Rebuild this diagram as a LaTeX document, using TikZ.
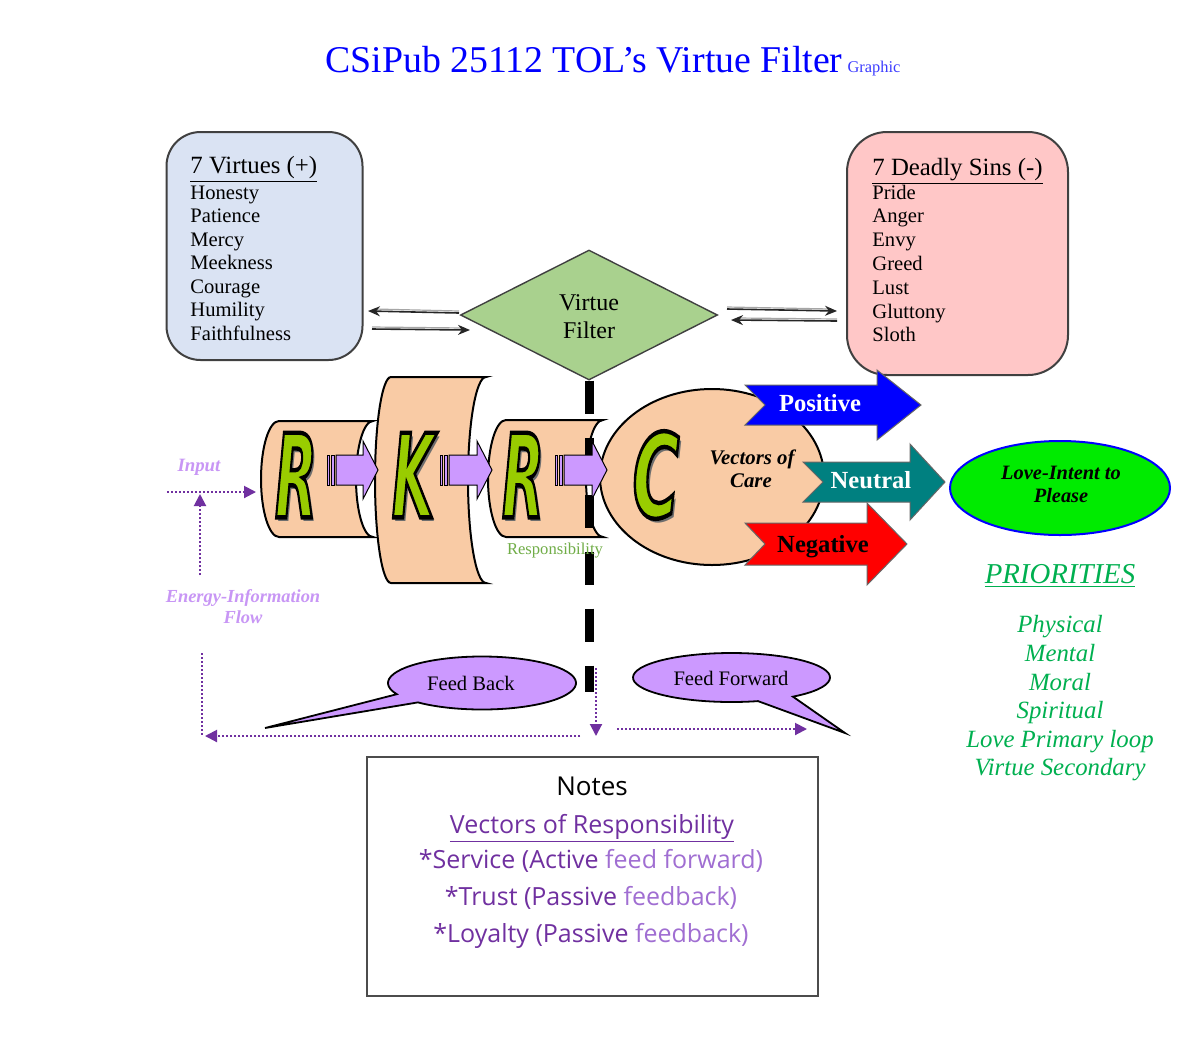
\documentclass[tikz,border=0pt]{standalone}
\usepackage{graphicx}
\usepackage{fontspec}
\setmainfont{Liberation Serif}
\newfontfamily\rkfont{DejaVu Sans}
\newfontfamily\notefont{Open Sans}
\usetikzlibrary{shapes.geometric,arrows.meta,calc}
\definecolor{vblue}{RGB}{218,227,243}
\definecolor{spink}{RGB}{255,199,199}
\definecolor{dgreen}{RGB}{169,209,142}
\definecolor{peach}{RGB}{249,203,165}
\definecolor{lgreen}{RGB}{153,204,0}
\definecolor{lpurple}{RGB}{204,153,255}
\definecolor{ilpurple}{RGB}{200,150,245}
\definecolor{dpurple}{RGB}{112,48,160}
\definecolor{lpurpletwo}{RGB}{160,110,210}
\definecolor{tealtwo}{RGB}{0,128,128}
\definecolor{prgreen}{RGB}{0,176,80}
\definecolor{respgreen}{RGB}{112,173,71}
\definecolor{titleblue}{RGB}{0,0,255}
\definecolor{grblue}{RGB}{60,60,255}
\definecolor{lovegreen}{RGB}{0,235,0}
\definecolor{shadowgray}{RGB}{110,110,110}
\newcommand\fsz[1]{\fontsize{#1}{#1}\selectfont}
\newcommand\outlined[1]{\special{pdf:literal direct 2 Tr 2.2 w 0 0 0 RG}#1\special{pdf:literal direct 0 Tr}}
\tikzset{
  lst/.style={anchor=base west, inner sep=0},
  ctr/.style={anchor=base, inner sep=0},
  boxstyle/.style={draw=black!75, line width=1pt},
  cylstyle/.style={draw=black, line width=1pt, fill=peach},
  parr/.style={draw=black, line width=0.5pt, fill=lpurple},
  narr/.style={draw=black!60, line width=0.5pt},
  darr/.style={draw=black!85, line width=0.8pt, -{Stealth[length=6pt,width=5pt]}},
  dshadow/.style={draw=black!35, line width=0.6pt},
  dotp/.style={draw=dpurple, line width=1pt, dash pattern=on 1pt off 1pt},
  dotarr/.style={dotp, -{Triangle[length=6pt,width=6pt]}},
  callout/.style={draw=black, line width=0.9pt, fill=lpurple},
  bigl/.style={font=\rkfont\bfseries\itshape\fsz{58}, inner sep=0},
}
% #1 name, #2 x, #3 y, #4 letter, #5 xscale
\newcommand\bigletter[5]{%
  \node[bigl, text=lgreen] (#1) at (#2,#3) {\scalebox{#5}[1]{\makebox[0pt][l]{\kern3pt\raisebox{-2pt}{\textcolor{shadowgray}{#4}}}\outlined{#4}}};
}
% #1 name, #2 tail x, #3 tip x, #4 y
\newcommand\stripearrow[4]{%
  \draw[parr] (#2,#4-15) rectangle (#2+2.5,#4+15);
  \draw[parr] (#2+4.5,#4-15) rectangle (#2+7.5,#4+15);
  \draw[parr] (#2+9,#4+15) -- (#3-15,#4+15) -- (#3-15,#4+29) -- (#3,#4)
     -- (#3-15,#4-29) -- (#3-15,#4-15) -- (#2+9,#4-15) -- cycle;
  \coordinate (#1) at (#3,#4);
}
\begin{document}
\begin{tikzpicture}[x=0.5pt,y=0.5pt]
\useasboundingbox (0,0) rectangle (1200,-1040);
\fill[white] (0,0) rectangle (1200,-1040);

% Title
\node[lst, text=titleblue, font=\fsz{18.9}] (title) at (325,-72)
  {CSiPub 25112 TOL’s Virtue Filter\kern2.5pt{\color{grblue}\fsz{8.2}Graphic}};

% Virtues box
\node[boxstyle, fill=vblue, rounded corners=17pt, minimum width=98pt, minimum height=114pt] (virt) at (264.5,-246) {};
\node[lst, font=\fsz{12.4}] (vhead) at (190,-173) {\underline{7 Virtues (+)}};
\foreach \t [count=\i] in {Honesty,Patience,Mercy,Meekness,Courage,Humility,Faithfulness}
  \node[lst, font=\fsz{10.3}] (v\i) at (190,{-199-23.5*(\i-1)}) {\t};

% Sins box
\node[boxstyle, fill=spink, rounded corners=20pt, minimum width=110.5pt, minimum height=121.5pt] (sins) at (957.5,-253.5) {};
\node[lst, font=\fsz{12.4}] (shead) at (872,-175) {\underline{7 Deadly Sins (-)}};
\foreach \t [count=\i] in {Pride,Anger,Envy,Greed,Lust,Gluttony,Sloth}
  \node[lst, font=\fsz{10.3}] (s\i) at (872,{-199-23.8*(\i-1)}) {\t};

% Diamond
\node[diamond, aspect=2, draw=black!75, line width=0.7pt, fill=dgreen, minimum width=128.5pt, minimum height=65pt, inner sep=0] (vf) at (589,-315) {};
\node[ctr, font=\fsz{12}] (vft1) at (589,-310) {Virtue};
\node[ctr, font=\fsz{12}] (vft2) at (589,-338) {Filter};

% arrows between boxes and diamond
\coordinate (la1) at (459,-313); \coordinate (lb1) at (368,-311);
\coordinate (la2) at (372,-329); \coordinate (lb2) at (470,-330);
\coordinate (ra1) at (727,-309); \coordinate (rb1) at (837,-311);
\coordinate (ra2) at (837,-321); \coordinate (rb2) at (731,-320);
\draw[dshadow] ($(la1)+(0,2)$) -- ($(lb1)+(6,2)$);
\draw[dshadow] ($(la2)+(0,2)$) -- ($(lb2)+(-6,2)$);
\draw[dshadow] ($(ra1)+(0,2)$) -- ($(rb1)+(-6,2)$);
\draw[dshadow] ($(ra2)+(0,2)$) -- ($(rb2)+(6,2)$);
\draw[darr] (la1) -- (lb1);
\draw[darr] (la2) -- (lb2);
\draw[darr] (ra1) -- (rb1);
\draw[darr] (ra2) -- (rb2);

% cylinders
\draw[cylstyle] (279,-421) -- (373,-421) arc[start angle=90,end angle=270,x radius=8.5pt,y radius=29pt]
   -- (279,-537) arc[start angle=270,end angle=90,x radius=9pt,y radius=29pt] -- cycle;
\coordinate (cyl1) at (317,-479);
\draw[cylstyle] (391,-377) -- (486,-377) arc[start angle=90,end angle=270,x radius=9pt,y radius=51.5pt]
   -- (391,-583) arc[start angle=270,end angle=90,x radius=8pt,y radius=51.5pt] -- cycle;
\coordinate (cyl2) at (430,-480);
\draw[cylstyle] (506,-420) -- (603,-420) arc[start angle=90,end angle=270,x radius=8.5pt,y radius=29.25pt]
   -- (506,-537) arc[start angle=270,end angle=90,x radius=9pt,y radius=29.25pt] -- cycle;
\coordinate (cyl3) at (545,-478);

% dashed black line
\coordinate (dashend) at (589,-692);
\draw[line width=4.5pt, dash pattern=on 16.5pt off 12pt] (vf.south) -- (dashend);

% C ellipse
\node[ellipse, draw=black, line width=1pt, fill=peach, minimum width=112pt, minimum height=88pt] (care) at (712,-477) {};

% purple striped arrows
\stripearrow{pa1}{327}{378}{-470}
\stripearrow{pa2}{440}{492}{-470}
\stripearrow{pa3}{555}{607}{-470}

% letters
\bigletter{L1}{296}{-477}{R}{0.47}
\bigletter{L2}{413}{-477}{K}{0.47}
\bigletter{L3}{523}{-477}{R}{0.47}
\bigletter{L4}{656}{-477}{C}{0.55}

\node[ctr, text=respgreen, font=\fsz{8.3}] (resp) at (555,-554) {Responsibility};
\node[ctr, font=\bfseries\itshape\fsz{10.4}] (voc1) at (752,-464) {Vectors of};
\node[ctr, font=\bfseries\itshape\fsz{10.4}] (voc2) at (751,-487) {Care};

% notched arrows
\draw[narr, fill=blue] (745,-385) -- (877,-385) -- (877,-370) -- (921,-405) -- (877,-440) -- (877,-425) -- (745,-425) -- (765,-405) -- cycle;
\draw[narr, fill=tealtwo] (803,-462) -- (910,-462) -- (910,-444) -- (945,-482) -- (910,-520) -- (910,-502) -- (803,-502) -- (823,-482) -- cycle;
\draw[narr, fill=red] (745,-523) -- (867,-523) -- (867,-503) -- (907,-544) -- (867,-585) -- (867,-565) -- (745,-565) -- (765,-544) -- cycle;
\node[ctr, text=white, font=\bfseries\fsz{12.3}] (pos) at (820,-411) {Positive};
\node[ctr, text=white, font=\bfseries\fsz{12.3}] (neu) at (871,-488) {Neutral};
\node[ctr, text=black, font=\bfseries\fsz{12.3}] (neg) at (823,-552) {Negative};

% Love ellipse
\node[ellipse, draw=blue, line width=1pt, fill=lovegreen, minimum width=110pt, minimum height=47pt] (love) at (1060,-488) {};
\node[ctr, font=\bfseries\itshape\fsz{10.2}] (love1) at (1061,-479) {Love-Intent to};
\node[ctr, font=\bfseries\itshape\fsz{10.2}] (love2) at (1061,-502) {Please};

% Priorities
\node[ctr, text=prgreen, font=\itshape\fsz{14.4}] (prio) at (1060,-583) {\underline{PRIORITIES}};
\foreach \t/\yy [count=\i] in {Physical/632,Mental/661,Moral/690,Spiritual/718,Love Primary loop/747,Virtue Secondary/775}
  \node[ctr, text=prgreen, font=\itshape\fsz{12.4}] (p\i) at (1060,-\yy) {\t};

% Input / energy flow
\node[ctr, text=ilpurple, font=\bfseries\itshape\fsz{9.4}] (input) at (199,-471) {Input};
\node[ctr, text=ilpurple, font=\bfseries\itshape\fsz{9.2}] (eif1) at (243,-602) {Energy-Information};
\node[ctr, text=ilpurple, font=\bfseries\itshape\fsz{9.2}] (eif2) at (243,-623) {Flow};

\coordinate (in0) at (167,-492); \coordinate (in1) at (256,-492);
\coordinate (up0) at (200,-575); \coordinate (up1) at (200,-494);
\coordinate (lv0) at (202,-653); \coordinate (lv1) at (202,-736);
\coordinate (fbh0) at (580,-736); \coordinate (fbh1) at (205,-736);
\coordinate (dn0) at (596,-668); \coordinate (dn1) at (596,-736);
\coordinate (ffh0) at (617,-729); \coordinate (ffh1) at (807,-729);
\draw[dotarr] (in0) -- (in1);
\draw[dotarr] (up0) -- (up1);
\draw[dotp] (lv0) -- (lv1);
\draw[dotarr] (fbh0) -- (fbh1);
\draw[dotarr] (dn0) -- (dn1);
\draw[dotarr] (ffh0) -- (ffh1);

% callouts
\coordinate (fb) at (482,-683); \coordinate (fbt) at (265,-728);
\draw[callout] (fbt) -- ($(fb)+(205:47pt and 13.25pt)$) arc[start angle=205,end angle=-133,x radius=47pt,y radius=13.25pt] -- cycle;
\node[font=\fsz{10.3}, inner sep=0] (fbtext) at (471,-683) {Feed Back};
\coordinate (ff) at (731.5,-677.5); \coordinate (fft) at (845,-733);
\draw[callout] (fft) -- ($(ff)+(308.6:49.25pt and 12.25pt)$) arc[start angle=308.6,end angle=645.6,x radius=49.25pt,y radius=12.25pt] -- cycle;
\node[font=\fsz{10.3}, inner sep=0] (fftext) at (731,-678) {Feed Forward};

% Notes
\node[draw=black!70, line width=1pt, minimum width=225.5pt, minimum height=119.5pt] (notes) at (592.5,-876.5) {};
\node[ctr, font=\notefont\fsz{13}] (n0) at (592,-795) {Notes};
\node[ctr, text=dpurple, font=\notefont\fsz{12.5}] (n1) at (592,-833) {\underline{Vectors of Responsibility}};
\node[ctr, text=dpurple, font=\notefont\fsz{12.5}] (n2) at (591,-868) {*Service (Active {\color{lpurpletwo}feed forward)}};
\node[ctr, text=dpurple, font=\notefont\fsz{12.5}] (n3) at (591,-905) {*Trust (Passive {\color{lpurpletwo}feedback)}};
\node[ctr, text=dpurple, font=\notefont\fsz{12.5}] (n4) at (591,-942) {*Loyalty (Passive {\color{lpurpletwo}feedback)}};
\end{tikzpicture}
\end{document}
